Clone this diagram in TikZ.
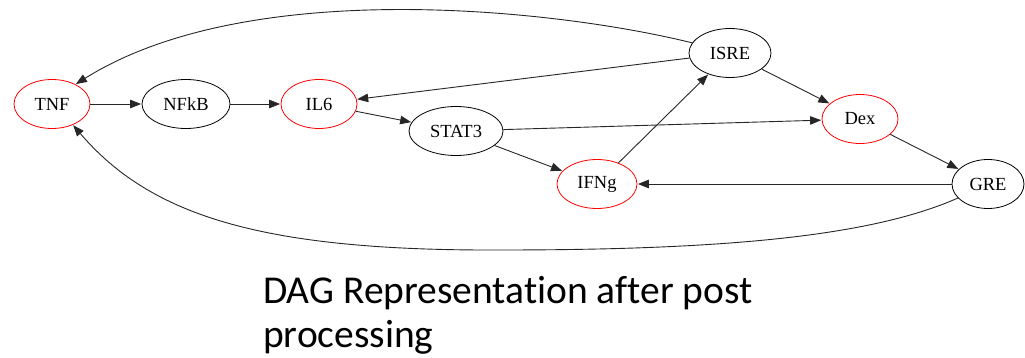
\documentclass[tikz,border=0pt]{standalone}
\usepackage{fontspec}
\setmainfont{Liberation Serif}
\newfontfamily\captionfont[Ligatures=NoCommon]{Carlito}
\usetikzlibrary{shapes.geometric,arrows.meta}

\tikzset{
  gnode/.style={ellipse, draw=black, line width=0.8pt, inner sep=0pt,
    minimum height=49pt, font=\fontsize{18.5}{20}\selectfont},
  hot/.style={gnode, draw=red},
  edge/.style={draw=black!85, line width=0.9pt,
    -{Triangle[length=11pt,width=8.5pt]}, shorten >=0.5pt},
}

\begin{document}
\begin{tikzpicture}[x=1pt,y=-1pt]
\useasboundingbox (0,0) rectangle (1025,358);

% nodes of the regulatory graph
\node[hot,  minimum width=76pt] (tnf)   at (52,104)  {TNF};
\node[gnode,minimum width=88pt] (nfkb)  at (186,104) {NFkB};
\node[hot,  minimum width=76pt] (il6)   at (319,104) {IL6};
\node[gnode,minimum width=94pt] (stat3) at (456,131) {STAT3};
\node[gnode,minimum width=82pt] (isre)  at (730,53)  {ISRE};
\node[hot,  minimum width=76pt] (dex)   at (860,119) {Dex};
\node[hot,  minimum width=80pt] (ifng)  at (597,184) {IFNg};
\node[gnode,minimum width=72pt] (gre)   at (988,184) {GRE};

% straight edges
\draw[edge] (tnf) -- (nfkb);
\draw[edge] (nfkb) -- (il6);
\draw[edge] (il6) -- (stat3);
\draw[edge] (stat3) -- (dex);
\draw[edge] (stat3) -- (ifng);
\draw[edge] (ifng) -- (isre);
\draw[edge] (isre) -- (il6);
\draw[edge] (isre) -- (dex);
\draw[edge] (dex) -- (gre);
\draw[edge] (gre) -- (ifng);

% long feedback edges back to TNF
\draw[edge] (isre.165) .. controls (560,10) and (250,-25) .. (tnf.40);
\draw[edge] (gre.205) .. controls (870,237) and (720,250) .. (500,250)
  .. controls (260,251) and (150,215) .. (tnf.-45);

% caption (the base anchor sits on the baseline of the last line)
\node[anchor=base west, align=left, inner sep=0pt,
  font=\captionfont\fontsize{39.5}{44}\selectfont] (caption) at (263,347)
  {DAG Representation after post\\processing};
\end{tikzpicture}
\end{document}
